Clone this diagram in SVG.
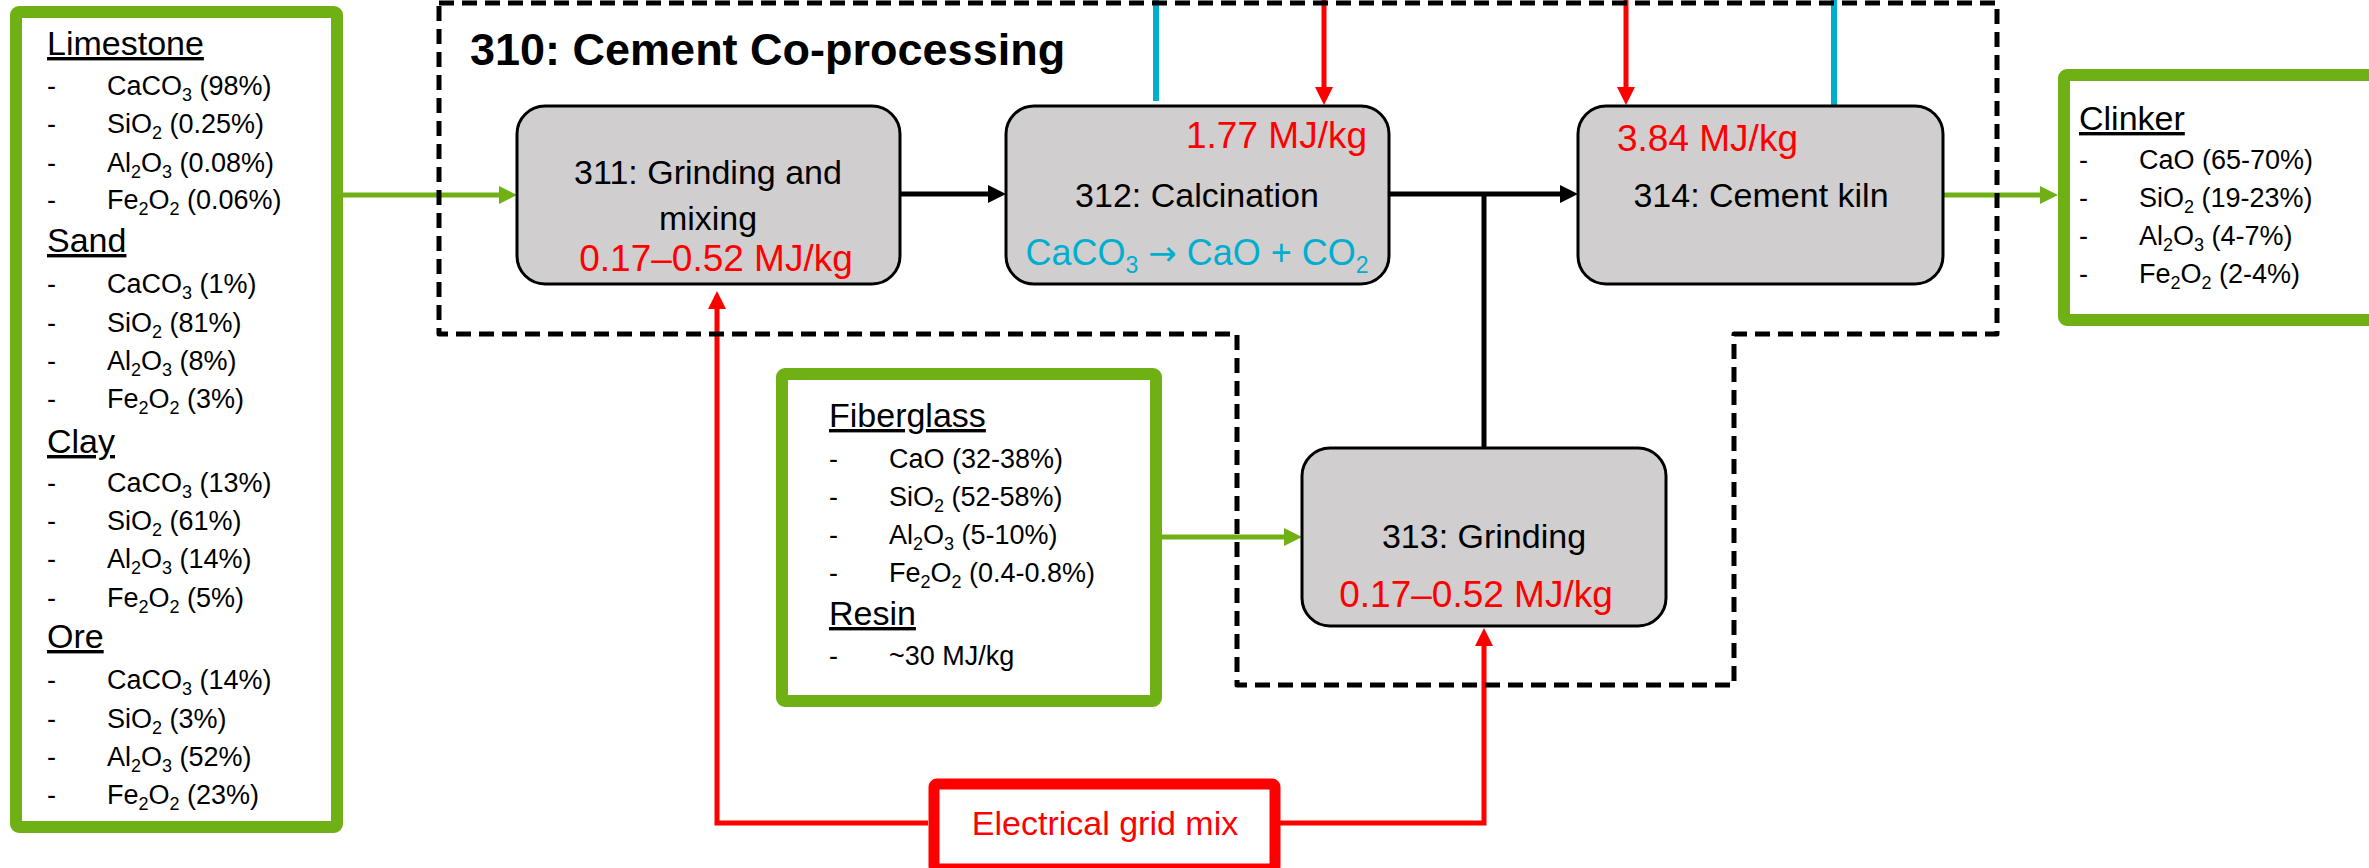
<svg xmlns="http://www.w3.org/2000/svg" width="2369" height="868" viewBox="0 0 2369 868">
<style>
text{font-family:"Liberation Sans",Arial,sans-serif;fill:#000}
.hd{font-size:34px;text-decoration:underline}
.it{font-size:27px}
.sb{font-size:18px}
.sbl{font-size:23px}
.arw{font-family:"DejaVu Sans",sans-serif;font-size:34px}
.lbl{font-size:34px;text-anchor:middle}
.red{font-size:37px;fill:#FF0000}
.cy{font-size:36px;fill:#00AED0;text-anchor:middle}
.ttl{font-size:45px;font-weight:bold}
.mat{fill:#FFFFFF;stroke:#6FB014;stroke-width:12;stroke-linejoin:round}
.proc{fill:#D0CECE;stroke:#000;stroke-width:3}
.grid{fill:#FFFFFF;stroke:#FF0000;stroke-width:11;stroke-linejoin:round}
.gl{fill:none;stroke:#6FB014;stroke-width:5}
.bl{fill:none;stroke:#000;stroke-width:5}
.rl{fill:none;stroke:#FF0000;stroke-width:5}
.cl{fill:none;stroke:#00AED0;stroke-width:6}
.dash{fill:none;stroke:#000;stroke-width:5;stroke-dasharray:15 8;stroke-linejoin:round}
</style>
<defs>
<marker id="ag" markerUnits="userSpaceOnUse" markerWidth="18" markerHeight="18" refX="0" refY="9" orient="auto"><path d="M0,0 L18,9 L0,18 z" fill="#6FB014"/></marker>
<marker id="ab" markerUnits="userSpaceOnUse" markerWidth="18" markerHeight="18" refX="0" refY="9" orient="auto"><path d="M0,0 L18,9 L0,18 z" fill="#000"/></marker>
<marker id="ar" markerUnits="userSpaceOnUse" markerWidth="18" markerHeight="18" refX="0" refY="9" orient="auto"><path d="M0,0 L18,9 L0,18 z" fill="#FF0000"/></marker>
</defs>
<rect width="2369" height="868" fill="#FFFFFF"/>

<g id="connectors">
<path class="gl" d="M343,195 H499" marker-end="url(#ag)"/>
<path class="bl" d="M900,194 H988" marker-end="url(#ab)"/>
<path class="bl" d="M1389,194 H1560" marker-end="url(#ab)"/>
<path class="bl" d="M1484,448 V194"/>
<path class="gl" d="M1943,195 H2040" marker-end="url(#ag)"/>
<path class="gl" d="M1162,537 H1284" marker-end="url(#ag)"/>
<path class="rl" d="M928,823 H717 V309" marker-end="url(#ar)"/>
<path class="rl" d="M1280,823 H1484 V646" marker-end="url(#ar)"/>
<path class="rl" d="M1324,0 V87" marker-end="url(#ar)"/>
<path class="rl" d="M1626,0 V87" marker-end="url(#ar)"/>
<path class="cl" d="M1156,0 V101"/>
<path class="cl" d="M1834,0 V108"/>
</g>

<g id="n310">
<path class="dash" d="M439,3 H1997 V334 H1734 V685 H1237 V334 H439 Z"/>
<text class="ttl" x="470" y="65">310: Cement Co-processing</text>
</g>

<g id="inputs">
<rect class="mat" x="16" y="12" width="321" height="815" rx="3"/>
<text class="hd" x="47" y="55">Limestone</text>
<text class="it" x="47" y="95">-</text><text class="it" x="107" y="95">CaCO<tspan class="sb" dy="6">3</tspan><tspan dy="-6"> (98%)</tspan></text>
<text class="it" x="47" y="133">-</text><text class="it" x="107" y="133">SiO<tspan class="sb" dy="6">2</tspan><tspan dy="-6"> (0.25%)</tspan></text>
<text class="it" x="47" y="172">-</text><text class="it" x="107" y="172">Al<tspan class="sb" dy="6">2</tspan><tspan dy="-6">O</tspan><tspan class="sb" dy="6">3</tspan><tspan dy="-6"> (0.08%)</tspan></text>
<text class="it" x="47" y="209">-</text><text class="it" x="107" y="209">Fe<tspan class="sb" dy="6">2</tspan><tspan dy="-6">O</tspan><tspan class="sb" dy="6">2</tspan><tspan dy="-6"> (0.06%)</tspan></text>
<text class="hd" x="47" y="252">Sand</text>
<text class="it" x="47" y="293">-</text><text class="it" x="107" y="293">CaCO<tspan class="sb" dy="6">3</tspan><tspan dy="-6"> (1%)</tspan></text>
<text class="it" x="47" y="332">-</text><text class="it" x="107" y="332">SiO<tspan class="sb" dy="6">2</tspan><tspan dy="-6"> (81%)</tspan></text>
<text class="it" x="47" y="370">-</text><text class="it" x="107" y="370">Al<tspan class="sb" dy="6">2</tspan><tspan dy="-6">O</tspan><tspan class="sb" dy="6">3</tspan><tspan dy="-6"> (8%)</tspan></text>
<text class="it" x="47" y="408">-</text><text class="it" x="107" y="408">Fe<tspan class="sb" dy="6">2</tspan><tspan dy="-6">O</tspan><tspan class="sb" dy="6">2</tspan><tspan dy="-6"> (3%)</tspan></text>
<text class="hd" x="47" y="453">Clay</text>
<text class="it" x="47" y="492">-</text><text class="it" x="107" y="492">CaCO<tspan class="sb" dy="6">3</tspan><tspan dy="-6"> (13%)</tspan></text>
<text class="it" x="47" y="530">-</text><text class="it" x="107" y="530">SiO<tspan class="sb" dy="6">2</tspan><tspan dy="-6"> (61%)</tspan></text>
<text class="it" x="47" y="568">-</text><text class="it" x="107" y="568">Al<tspan class="sb" dy="6">2</tspan><tspan dy="-6">O</tspan><tspan class="sb" dy="6">3</tspan><tspan dy="-6"> (14%)</tspan></text>
<text class="it" x="47" y="607">-</text><text class="it" x="107" y="607">Fe<tspan class="sb" dy="6">2</tspan><tspan dy="-6">O</tspan><tspan class="sb" dy="6">2</tspan><tspan dy="-6"> (5%)</tspan></text>
<text class="hd" x="47" y="648">Ore</text>
<text class="it" x="47" y="689">-</text><text class="it" x="107" y="689">CaCO<tspan class="sb" dy="6">3</tspan><tspan dy="-6"> (14%)</tspan></text>
<text class="it" x="47" y="728">-</text><text class="it" x="107" y="728">SiO<tspan class="sb" dy="6">2</tspan><tspan dy="-6"> (3%)</tspan></text>
<text class="it" x="47" y="766">-</text><text class="it" x="107" y="766">Al<tspan class="sb" dy="6">2</tspan><tspan dy="-6">O</tspan><tspan class="sb" dy="6">3</tspan><tspan dy="-6"> (52%)</tspan></text>
<text class="it" x="47" y="804">-</text><text class="it" x="107" y="804">Fe<tspan class="sb" dy="6">2</tspan><tspan dy="-6">O</tspan><tspan class="sb" dy="6">2</tspan><tspan dy="-6"> (23%)</tspan></text>
</g>

<g id="n311">
<rect class="proc" x="517" y="106" width="383" height="178" rx="28"/>
<text class="lbl" x="708" y="184">311: Grinding and</text>
<text class="lbl" x="708" y="230">mixing</text>
<text class="red" x="716" y="271" text-anchor="middle">0.17–0.52 MJ/kg</text>
</g>

<g id="n312">
<rect class="proc" x="1006" y="106" width="383" height="178" rx="28"/>
<text class="red" x="1367" y="148" text-anchor="end">1.77 MJ/kg</text>
<text class="lbl" x="1197" y="207">312: Calcination</text>
<text class="cy" x="1197" y="265">CaCO<tspan class="sbl" dy="8">3</tspan><tspan dy="-8"> </tspan><tspan class="arw">→</tspan><tspan> CaO + CO</tspan><tspan class="sbl" dy="8">2</tspan></text>
</g>

<g id="n314">
<rect class="proc" x="1578" y="106" width="365" height="178" rx="28"/>
<text class="red" x="1617" y="151">3.84 MJ/kg</text>
<text class="lbl" x="1761" y="207">314: Cement kiln</text>
</g>

<g id="n313">
<rect class="proc" x="1302" y="448" width="364" height="178" rx="28"/>
<text class="lbl" x="1484" y="548">313: Grinding</text>
<text class="red" x="1476" y="607" text-anchor="middle">0.17–0.52 MJ/kg</text>
</g>

<g id="fiberglass">
<rect class="mat" x="782" y="374" width="374" height="327" rx="3"/>
<text class="hd" x="829" y="427">Fiberglass</text>
<text class="it" x="829" y="468">-</text><text class="it" x="889" y="468">CaO (32-38%)</text>
<text class="it" x="829" y="506">-</text><text class="it" x="889" y="506">SiO<tspan class="sb" dy="6">2</tspan><tspan dy="-6"> (52-58%)</tspan></text>
<text class="it" x="829" y="544">-</text><text class="it" x="889" y="544">Al<tspan class="sb" dy="6">2</tspan><tspan dy="-6">O</tspan><tspan class="sb" dy="6">3</tspan><tspan dy="-6"> (5-10%)</tspan></text>
<text class="it" x="829" y="582">-</text><text class="it" x="889" y="582">Fe<tspan class="sb" dy="6">2</tspan><tspan dy="-6">O</tspan><tspan class="sb" dy="6">2</tspan><tspan dy="-6"> (0.4-0.8%)</tspan></text>
<text class="hd" x="829" y="625">Resin</text>
<text class="it" x="829" y="665">-</text><text class="it" x="889" y="665">~30 MJ/kg</text>
</g>

<g id="clinker">
<rect class="mat" x="2064" y="75" width="320" height="245" rx="3"/>
<text class="hd" x="2079" y="130">Clinker</text>
<text class="it" x="2079" y="169">-</text><text class="it" x="2139" y="169">CaO (65-70%)</text>
<text class="it" x="2079" y="207">-</text><text class="it" x="2139" y="207">SiO<tspan class="sb" dy="6">2</tspan><tspan dy="-6"> (19-23%)</tspan></text>
<text class="it" x="2079" y="245">-</text><text class="it" x="2139" y="245">Al<tspan class="sb" dy="6">2</tspan><tspan dy="-6">O</tspan><tspan class="sb" dy="6">3</tspan><tspan dy="-6"> (4-7%)</tspan></text>
<text class="it" x="2079" y="283">-</text><text class="it" x="2139" y="283">Fe<tspan class="sb" dy="6">2</tspan><tspan dy="-6">O</tspan><tspan class="sb" dy="6">2</tspan><tspan dy="-6"> (2-4%)</tspan></text>
</g>

<g id="grid">
<rect class="grid" x="934" y="784" width="341" height="85" rx="3"/>
<text class="lbl" x="1105" y="835" style="fill:#FF0000">Electrical grid mix</text>
</g>
</svg>
